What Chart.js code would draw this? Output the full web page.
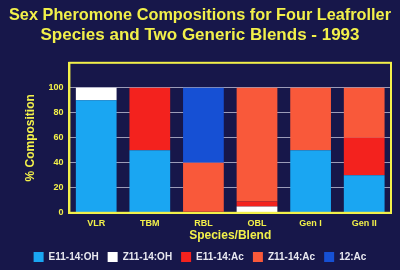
<!DOCTYPE html>
<html>
<head>
<meta charset="utf-8">
<script src="https://cdn.jsdelivr.net/npm/chart.js@4/dist/chart.umd.min.js"></script>
<style>
  html, body { margin: 0; padding: 0; background: #17174a; }
  #wrap { width: 400px; height: 270px; }
</style>
</head>
<body>
<div id="wrap"><canvas id="chart" width="400" height="270"></canvas></div>
<script>
// Categories and series (% composition)
const categories = ['VLR', 'TBM', 'RBL', 'OBL', 'Gen I', 'Gen II'];
const e11OH  = [90, 50, 0, 0, 50, 30];
const z11OH  = [10, 0, 0, 5, 0, 0];
const e11Ac  = [0, 50, 1, 4, 0, 30];
const z11Ac  = [0, 0, 39, 91, 50, 40];
const ac12   = [0, 0, 60, 0, 0, 0];
const seriesNames = ['E11-14:OH', 'Z11-14:OH', 'E11-14:Ac', 'Z11-14:Ac', '12:Ac'];
const yTicks = [0, 20, 40, 60, 80, 100];

const YELLOW = '#f2f04a';
const FONT = 'Liberation Sans, Arial, sans-serif';

// yellow frame round the plot area
const frame = {
    id: 'frame',
    afterDraw(chart) {
        const a = chart.chartArea;
        const c = chart.ctx;
        c.save();
        c.strokeStyle = YELLOW;
        c.lineWidth = 2;
        c.strokeRect(a.left, a.top, a.right - a.left, a.bottom - a.top);
        c.restore();
    }
};

function ds(label, data, color) {
    return {
        label: label,
        data: data,
        backgroundColor: color,
        borderWidth: 0,
        barPercentage: 0.76,
        categoryPercentage: 1.0
    };
}

new Chart(document.getElementById('chart'), {
    type: 'bar',
    data: {
        labels: categories,
        datasets: [
            ds(seriesNames[0], e11OH, '#1aa6f2'),
            ds(seriesNames[1], z11OH, '#ffffff'),
            ds(seriesNames[2], e11Ac, '#f3221e'),
            ds(seriesNames[3], z11Ac, '#f9593a'),
            ds(seriesNames[4], ac12, '#1650d4')
        ]
    },
    options: {
        responsive: false,
        animation: false,
        layout: { padding: { left: 9, right: 9, top: 4, bottom: -2 } },
        plugins: {
            title: {
                display: true,
                text: ['Sex Pheromone Compositions for Four Leafroller', 'Species and Two Generic Blends - 1993'],
                color: YELLOW,
                font: { family: FONT, size: 17, weight: 'bold' },
                lineHeight: 1.12,
                padding: { top: 1, bottom: 17 }
            },
            legend: {
                position: 'bottom',
                labels: {
                    color: '#e8e8f0',
                    font: { family: FONT, size: 10, weight: 'bold' },
                    boxWidth: 10,
                    boxHeight: 10,
                    padding: 9
                }
            },
            tooltip: { enabled: false }
        },
        scales: {
            x: {
                stacked: true,
                grid: { display: false, drawTicks: false },
                border: { color: YELLOW, width: 2 },
                ticks: {
                    color: YELLOW,
                    font: { family: FONT, size: 9, weight: 'bold' },
                    padding: 5
                },
                title: {
                    display: true,
                    text: 'Species/Blend',
                    color: YELLOW,
                    font: { family: FONT, size: 12, weight: 'bold' },
                    padding: { top: -5, bottom: 0 }
                }
            },
            y: {
                stacked: true,
                min: 0,
                max: 120,
                afterBuildTicks(axis) {
                    axis.ticks = yTicks.map(v => ({ value: v }));
                },
                grid: { color: '#9c9cb8', lineWidth: 1, drawTicks: false },
                border: { color: YELLOW, width: 2 },
                ticks: {
                    color: YELLOW,
                    font: { family: FONT, size: 9, weight: 'bold' },
                    padding: 6
                },
                title: {
                    display: true,
                    text: '% Composition',
                    color: YELLOW,
                    font: { family: FONT, size: 12, weight: 'bold' },
                    padding: { top: 14, bottom: 5 }
                }
            }
        }
    },
    plugins: [frame]
});
</script>
</body>
</html>
